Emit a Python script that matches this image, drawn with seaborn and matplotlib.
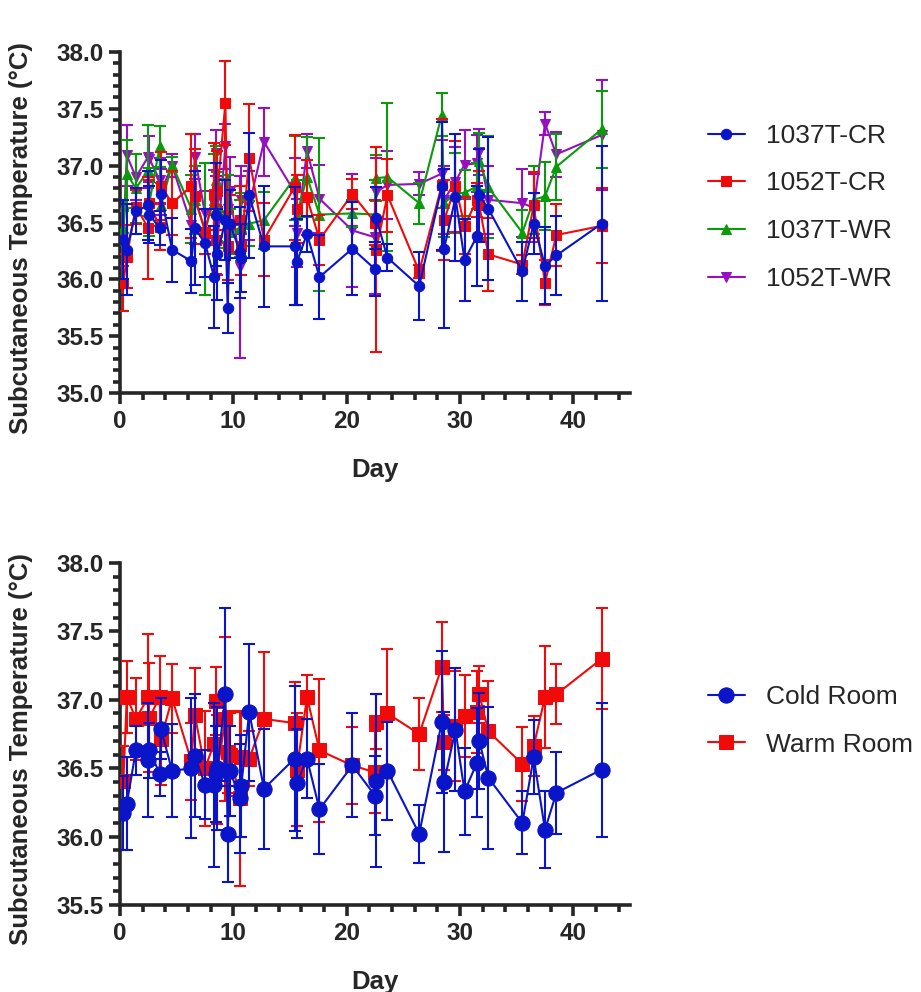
#!/usr/bin/env python
"""
Subcutaneous temperature per animal (top) and per room (bottom).
"""

import matplotlib

matplotlib.use("Agg")
import matplotlib.pyplot as plt
import seaborn as sns
from matplotlib.ticker import FormatStrFormatter, MultipleLocator

days = [0.3, 0.6, 1.4, 2.5, 2.6, 3.5, 3.6, 4.6, 6.3, 6.6, 7.5, 8.3, 8.5, 8.6,
        9.3, 9.5, 9.7, 10.6, 10.7, 11.4, 12.7, 15.4, 15.6, 16.5, 17.6, 20.5,
        22.5, 22.6, 23.6, 26.4, 28.4, 28.6, 29.6, 30.4, 31.5, 31.7, 32.5,
        35.5, 36.5, 37.5, 38.5, 42.5]

# top panel: individual animals, mean and error
cr_1037_mean = [36.35, 36.26, 36.60, 36.65, 36.57, 36.45, 36.75, 36.26, 36.16, 36.45,
                36.32, 36.02, 36.57, 36.22, 36.52, 35.75, 36.49, 36.24, 36.19, 36.74,
                36.29, 36.29, 36.15, 36.40, 36.02, 36.27, 36.09, 36.54, 36.19, 35.94,
                36.82, 36.27, 36.72, 36.17, 36.38, 36.74, 36.62, 36.07, 36.49, 36.12,
                36.21, 36.49]
cr_1037_err = [0.35, 0.40, 0.20, 0.30, 0.25, 0.15, 0.30, 0.28, 0.28, 0.50, 0.30, 0.45,
               0.45, 0.40, 0.35, 0.22, 0.30, 0.40, 0.30, 0.55, 0.53, 0.52, 0.38, 0.16,
               0.37, 0.41, 0.24, 0.27, 0.12, 0.30, 0.56, 0.70, 0.56, 0.36, 0.44, 0.41,
               0.63, 0.26, 0.27, 0.34, 0.35, 0.68]

cr_1052_mean = [35.97, 36.20, 36.64, 36.45, 36.67, 36.46, 36.82, 36.67, 36.82, 36.73,
                36.42, 36.75, 36.35, 36.78, 37.55, 36.29, 36.49, 36.52, 36.29, 37.07,
                36.35, 36.81, 36.62, 36.72, 36.35, 36.75, 36.50, 36.26, 36.74, 36.07,
                36.83, 36.52, 36.82, 36.47, 36.70, 36.65, 36.22, 36.13, 36.65, 35.97,
                36.39, 36.47]
cr_1052_err = [0.25, 0.28, 0.15, 0.45, 0.20, 0.20, 0.30, 0.28, 0.46, 0.42, 0.20, 0.45,
               0.30, 0.35, 0.37, 0.30, 0.25, 0.30, 0.25, 0.47, 0.32, 0.46, 0.30, 0.33,
               0.22, 0.13, 0.20, 0.90, 0.32, 0.06, 0.58, 0.35, 0.40, 0.25, 0.15, 0.30,
               0.32, 0.08, 0.29, 0.20, 0.27, 0.33]

wr_1037_mean = [36.45, 36.93, 36.80, 36.96, 36.68, 37.17, 36.65, 37.01, 36.62, 36.70,
                36.44, 36.70, 36.87, 36.64, 36.58, 36.62, 36.42, 36.45, 36.46, 36.49,
                36.52, 36.89, 36.57, 36.90, 36.57, 36.58, 36.57, 36.89, 36.90, 36.67,
                37.45, 36.67, 36.76, 36.76, 36.82, 37.04, 36.81, 36.41, 36.70, 36.73,
                36.99, 37.32]
wr_1037_err = [0.15, 0.30, 0.30, 0.40, 0.30, 0.18, 0.20, 0.07, 0.30, 0.30, 0.58, 0.40,
               0.30, 0.30, 0.30, 0.30, 0.20, 0.25, 0.30, 0.20, 0.25, 0.37, 0.30, 0.35,
               0.67, 0.12, 0.30, 0.20, 0.65, 0.18, 0.19, 0.30, 0.35, 0.20, 0.20, 0.25,
               0.45, 0.20, 0.30, 0.30, 0.29, 0.34]

wr_1052_mean = [36.37, 37.09, 36.90, 37.08, 37.06, 36.87, 36.77, 37.00, 36.48, 37.08,
                36.58, 36.66, 37.11, 36.34, 37.17, 36.62, 36.78, 36.11, 36.70, 36.65,
                37.21, 36.77, 36.41, 37.13, 36.71, 36.43, 36.37, 36.77, 36.83, 36.84,
                36.93, 36.70, 36.86, 37.01, 37.02, 37.12, 36.70, 36.67, 36.63, 37.37,
                37.10, 37.27]
wr_1052_err = [0.25, 0.27, 0.20, 0.28, 0.20, 0.20, 0.20, 0.10, 0.30, 0.20, 0.20, 0.30,
               0.20, 0.30, 0.20, 0.30, 0.30, 0.80, 0.30, 0.30, 0.30, 0.30, 0.30, 0.15,
               0.30, 0.50, 0.50, 0.30, 0.30, 0.10, 0.30, 0.30, 0.30, 0.30, 0.25, 0.20,
               0.30, 0.30, 0.30, 0.10, 0.20, 0.48]

# bottom panel: rooms
cold_mean = [36.17, 36.24, 36.63, 36.56, 36.63, 36.46, 36.79, 36.48, 36.50, 36.59,
             36.38, 36.38, 36.46, 36.50, 37.04, 36.02, 36.48, 36.28, 36.37, 36.91,
             36.35, 36.57, 36.39, 36.57, 36.20, 36.52, 36.30, 36.41, 36.48, 36.02,
             36.84, 36.40, 36.78, 36.33, 36.54, 36.70, 36.43, 36.10, 36.58, 36.05,
             36.32, 36.49]
cold_err = [0.27, 0.34, 0.18, 0.42, 0.20, 0.16, 0.22, 0.34, 0.51, 0.45, 0.25, 0.60,
            0.35, 0.45, 0.63, 0.35, 0.33, 0.40, 0.37, 0.50, 0.44, 0.53, 0.40, 0.29,
            0.33, 0.38, 0.29, 0.63, 0.36, 0.21, 0.52, 0.51, 0.45, 0.32, 0.40, 0.35,
            0.52, 0.23, 0.27, 0.28, 0.30, 0.49]

warm_mean = [36.41, 37.02, 36.86, 37.02, 36.87, 37.02, 36.71, 37.01, 36.55, 36.89,
             36.50, 36.68, 36.99, 36.49, 36.86, 36.62, 36.60, 36.28, 36.58, 36.57,
             36.86, 36.83, 36.49, 37.02, 36.63, 36.52, 36.47, 36.84, 36.90, 36.75,
             37.24, 36.69, 36.81, 36.88, 36.91, 37.04, 36.77, 36.53, 36.66, 37.02,
             37.04, 37.30]
warm_err = [0.25, 0.26, 0.30, 0.46, 0.40, 0.30, 0.33, 0.25, 0.28, 0.34, 0.42, 0.30,
            0.25, 0.40, 0.60, 0.30, 0.30, 0.64, 0.33, 0.20, 0.49, 0.30, 0.41, 0.16,
            0.52, 0.28, 0.30, 0.20, 0.47, 0.26, 0.33, 0.20, 0.40, 0.30, 0.30, 0.21,
            0.37, 0.27, 0.22, 0.37, 0.22, 0.37]

BLUE = "#0a14c8"
RED = "#f00a0a"
GREEN = "#0a9a0a"
PURPLE = "#9410c0"

top_series = [
    ("1037T-CR", cr_1037_mean, cr_1037_err, BLUE, "o", 7.5),
    ("1052T-CR", cr_1052_mean, cr_1052_err, RED, "s", 7),
    ("1037T-WR", wr_1037_mean, wr_1037_err, GREEN, "^", 7.5),
    ("1052T-WR", wr_1052_mean, wr_1052_err, PURPLE, "v", 7.5),
]
bottom_series = [
    ("Cold Room", cold_mean, cold_err, BLUE, "o", 11),
    ("Warm Room", warm_mean, warm_err, RED, "s", 10.5),
]


def draw(ax, series, ylim, legend_anchor, fig):
    n = len(series)
    # draw last series first so the first one sits on top
    for i, (name, mean, err, color, marker, ms) in reversed(list(enumerate(series))):
        z = 3 + (n - i) * 2
        ax.errorbar(days, mean, yerr=err, fmt="none", ecolor=color,
                    elinewidth=1.5, capsize=4, capthick=1.5, zorder=z)
        sns.lineplot(x=days, y=mean, ax=ax, color=color, marker=marker,
                     markersize=ms, markeredgecolor=color, linewidth=1.5,
                     label=name, zorder=z + 1)

    ax.set_xlim(0, 45)
    ax.set_ylim(*ylim)
    ax.xaxis.set_major_locator(MultipleLocator(10))
    ax.xaxis.set_minor_locator(MultipleLocator(2))
    ax.yaxis.set_major_locator(MultipleLocator(0.5))
    ax.yaxis.set_minor_locator(MultipleLocator(0.1))
    ax.yaxis.set_major_formatter(FormatStrFormatter("%.1f"))
    sns.despine(ax=ax, top=True, right=True)
    for side in ("left", "bottom"):
        ax.spines[side].set_linewidth(2.6)
    ax.tick_params(which="major", length=8, width=2.6, labelsize=17.5, pad=4)
    ax.tick_params(which="minor", length=5, width=2.6)
    for lab in ax.get_xticklabels() + ax.get_yticklabels():
        lab.set_fontweight("bold")
    ax.set_xlabel("Day", fontsize=18.5, fontweight="bold", labelpad=18)
    ax.set_ylabel("Subcutaneous Temperature (°C)", fontsize=18.5,
                  fontweight="bold")
    ax.yaxis.set_label_coords(-0.17, 0.455)

    handles, labels = ax.get_legend_handles_labels()
    order = [labels.index(s[0]) for s in series]
    ax.legend([handles[k] for k in order], [labels[k] for k in order],
              loc="upper left", bbox_to_anchor=legend_anchor,
              bbox_transform=fig.transFigure, frameon=False, fontsize=19,
              handlelength=1.4, handletextpad=0.8, labelspacing=0.9,
              borderpad=0.4)


def main() -> None:
    sns.set_style("ticks")
    plt.rcParams["font.family"] = ["Liberation Sans", "DejaVu Sans"]
    plt.rcParams["axes.unicode_minus"] = False

    fig = plt.figure(figsize=(9.21, 9.92), dpi=100)
    ax_top = fig.add_axes([120 / 921, 1 - 393 / 992, 510 / 921, 341 / 992])
    ax_bot = fig.add_axes([120 / 921, 1 - 905 / 992, 510 / 921, 342 / 992])

    draw(ax_top, top_series, (35.0, 38.0), (684 / 921, 1 - 100 / 992), fig)
    draw(ax_bot, bottom_series, (35.5, 38.0), (684 / 921, 1 - 661 / 992), fig)

    fig.savefig("out.png", dpi=100)
    plt.close(fig)


if __name__ == "__main__":
    main()
